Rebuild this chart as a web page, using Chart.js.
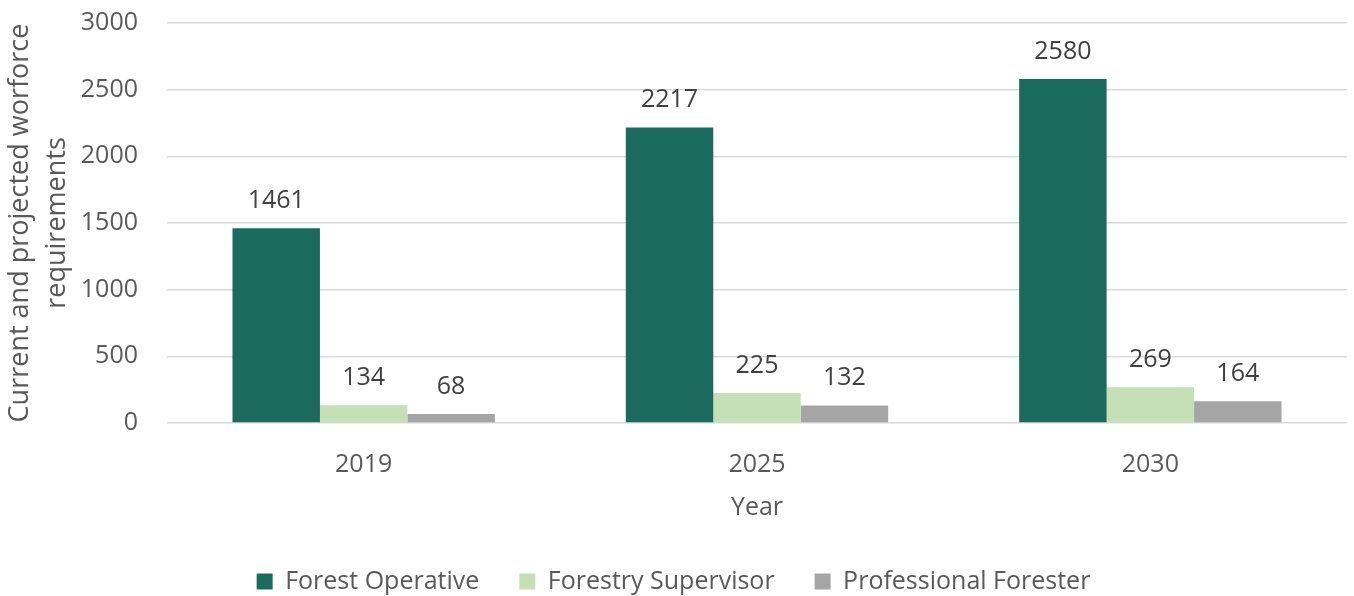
<!DOCTYPE html>
<html>
<head>
<meta charset="utf-8">
<script src="https://cdn.jsdelivr.net/npm/chart.js@4.4.1/dist/chart.umd.min.js"></script>
<style>
  html, body { margin: 0; padding: 0; background: #fff; overflow: hidden; }
  #wrap { width: 1354px; height: 625px; margin-top: -21px; }
</style>
</head>
<body>
<div id="wrap"><canvas id="barChart"></canvas></div>
<script>
// data
const years = ['2019', '2025', '2030'];
const forestOperative = [1461, 2217, 2580];
const forestrySupervisor = [134, 225, 269];
const professionalForester = [68, 132, 164];
const yTicks = [0, 500, 1000, 1500, 2000, 2500, 3000];

const fontFamily = "'Open Sans', sans-serif";
const textColor = '#595959';

// value labels above each bar
const barLabels = {
  id: 'barLabels',
  afterDatasetsDraw(chart) {
    const ctx = chart.ctx;
    ctx.save();
    ctx.font = '25px ' + fontFamily;
    ctx.fillStyle = '#404040';
    ctx.textAlign = 'center';
    ctx.textBaseline = 'bottom';
    chart.data.datasets.forEach((ds, i) => {
      chart.getDatasetMeta(i).data.forEach((bar, j) => {
        ctx.fillText(ds.data[j], bar.x, bar.y - 15);
      });
    });
    ctx.restore();
  }
};

const barData = {
  labels: years,
  datasets: [
    { label: 'Forest Operative', data: forestOperative, backgroundColor: '#1a6b5d' },
    { label: 'Forestry Supervisor', data: forestrySupervisor, backgroundColor: '#c5e0b4' },
    { label: 'Professional Forester', data: professionalForester, backgroundColor: '#a5a5a5' }
  ]
};

const barConfig = {
  type: 'bar',
  data: barData,
  options: {
    responsive: true,
    maintainAspectRatio: false,
    animation: false,
    layout: { padding: { top: 0, right: 7, left: 0, bottom: 0 } },
    datasets: { bar: { categoryPercentage: 0.667, barPercentage: 1 } },
    scales: {
      x: {
        afterFit(scale) { scale.height = 106; },
        grid: { display: false },
        border: { display: false },
        ticks: { color: textColor, font: { family: fontFamily, size: 25 }, padding: 19 },
        title: { display: true, text: 'Year', color: textColor, font: { family: fontFamily, size: 25 }, padding: { top: 0, bottom: 6 } }
      },
      y: {
        min: 0,
        max: 3000,
        afterBuildTicks(scale) { scale.ticks = yTicks.map(v => ({ value: v })); },
        afterFit(scale) { scale.width = 167; },
        grid: { color: '#d9d9d9', lineWidth: 1.5, drawTicks: false },
        border: { display: false },
        ticks: {
          color: textColor,
          font: { family: fontFamily, size: 25 },
          padding: 29,
          callback: v => String(v)
        },
        title: {
          display: true,
          text: ['Current and projected worforce', 'requirements'],
          color: textColor,
          font: { family: fontFamily, size: 27, lineHeight: 1.37 },
          padding: { top: 2, bottom: 0 }
        }
      }
    },
    plugins: {
      legend: {
        position: 'bottom',
        labels: {
          color: textColor,
          font: { family: fontFamily, size: 25 },
          boxWidth: 16,
          boxHeight: 16,
          padding: 40
        }
      },
      tooltip: { enabled: false }
    }
  },
  plugins: [barLabels]
};

const barChart = new Chart(document.getElementById('barChart'), barConfig);
</script>
</body>
</html>
